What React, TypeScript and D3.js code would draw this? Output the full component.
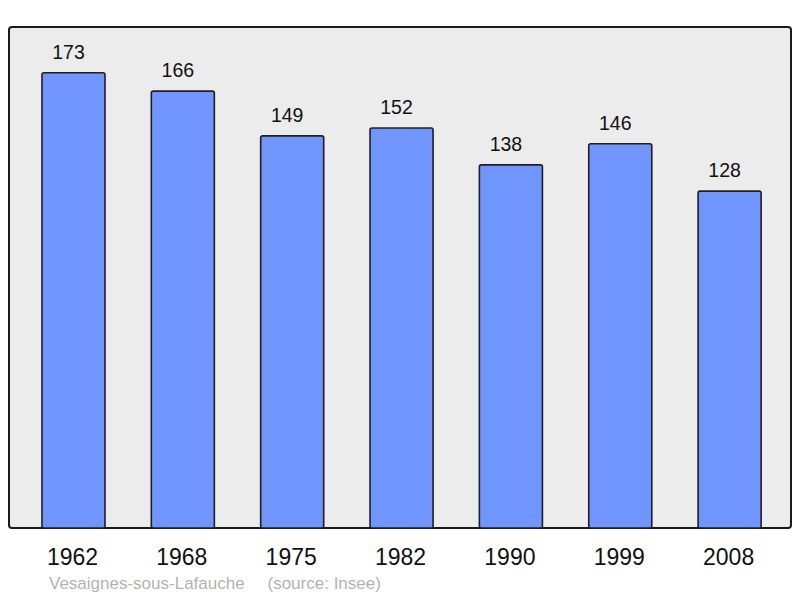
import React from "react";
import * as d3 from "d3";

const years = ["1962", "1968", "1975", "1982", "1990", "1999", "2008"];
const population = [173, 166, 149, 152, 138, 146, 128];
const commune = "Vesaignes-sous-Lafauche";
const source = "(source: Insee)";

const W = 800;
const H = 598;

export default function App() {
  const x = d3
    .scaleBand<string>()
    .domain(years)
    .range([18.8, 784.3])
    .paddingInner(0.4236)
    .paddingOuter(0.2118);
  const y = d3.scaleLinear().domain([0, 190]).range([528, 28]);
  const font = "'Liberation Sans', Arial, sans-serif";

  return (
    <svg
      width={W}
      height={H}
      style={{ position: "absolute", left: 0, top: 0 }}
      fontFamily={font}
    >
      <rect x={0} y={0} width={W} height={H} fill="#ffffff" />
      <rect
        x={9}
        y={27}
        width={782}
        height={501}
        rx={3}
        fill="#ececec"
        stroke="#1a1a1a"
        strokeWidth={2}
      />
      {years.map((yr, i) => {
        const v = population[i];
        const bx = x(yr) as number;
        const bw = x.bandwidth();
        return (
          <g key={yr}>
            <rect
              x={bx}
              y={y(v)}
              width={bw}
              height={y(0) - y(v)}
              rx={2}
              fill="#7095ff"
              stroke="#1f1f1f"
              strokeWidth={1.6}
            />
            <text
              x={bx + bw / 2 - 5}
              y={y(v) - 14}
              textAnchor="middle"
              fontSize={19.5}
              fill="#111"
            >
              {v}
            </text>
            <text
              x={bx + bw / 2 - 1}
              y={565}
              textAnchor="middle"
              fontSize={23}
              fill="#111"
            >
              {yr}
            </text>
          </g>
        );
      })}
      <text x={49} y={589} fontSize={17} fill="#b3b3b3">
        {commune}
      </text>
      <text x={267.5} y={589} fontSize={17} fill="#b3b3b3">
        {source}
      </text>
    </svg>
  );
}
